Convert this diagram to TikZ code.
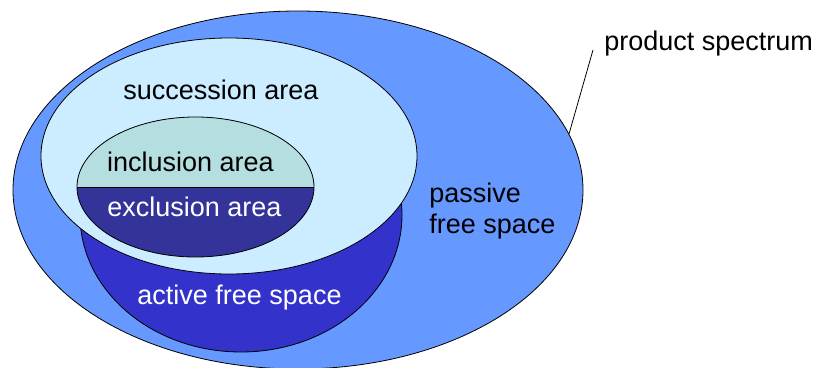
\documentclass[tikz,border=0pt]{standalone}
\usepackage{fontspec}
\setmainfont{Liberation Sans}
\usetikzlibrary{calc}
\definecolor{spectrumblue}{HTML}{6699FF}
\definecolor{activeblue}{HTML}{3333CC}
\definecolor{successionblue}{HTML}{CCECFF}
\definecolor{inclusiongreen}{HTML}{B4DEE0}
\definecolor{exclusionblue}{HTML}{333399}

\begin{document}
\begin{tikzpicture}[x=1pt,y=-1pt,line width=0.8pt,
    every node/.style={inner sep=0pt,font=\fontsize{27}{31}\selectfont}]
    \useasboundingbox (0,0) rectangle (817,367);
    % areas, from outside in
    \draw [fill=spectrumblue] (298,190) ellipse [x radius=285, y radius=179];
    \draw [fill=activeblue] (241,215) ellipse [x radius=161, y radius=137];
    \draw [fill=successionblue] (229,156) ellipse [x radius=188, y radius=118];
    \fill [exclusionblue] (195.5,187) ellipse [x radius=118.5, y radius=70];
    \begin{scope}
      \clip (0,0) rectangle (817,187);
      \fill [inclusiongreen] (195.5,187) ellipse [x radius=118.5, y radius=70];
    \end{scope}
    \draw (195.5,187) ellipse [x radius=118.5, y radius=70];
    \draw (77,187) -- (314,187);
    % labels
    \node (succession) [anchor=base] at (221,99) {succession area};
    \node (inclusion) [anchor=base] at (190.5,171) {inclusion area};
    \node (exclusion) [anchor=base,text=white] at (194.5,216) {exclusion area};
    \node (active) [anchor=base,text=white] at (239.5,304) {active free space};
    \node (passive) [anchor=west,align=left] at (429,211) {passive\\free space};
    \node (spectrum) [anchor=base west] at (604,50) {product spectrum};
    \coordinate (rim) at (569,134);
    \draw ([xshift=-11pt]spectrum.base west) -- (rim);
\end{tikzpicture}
\end{document}
